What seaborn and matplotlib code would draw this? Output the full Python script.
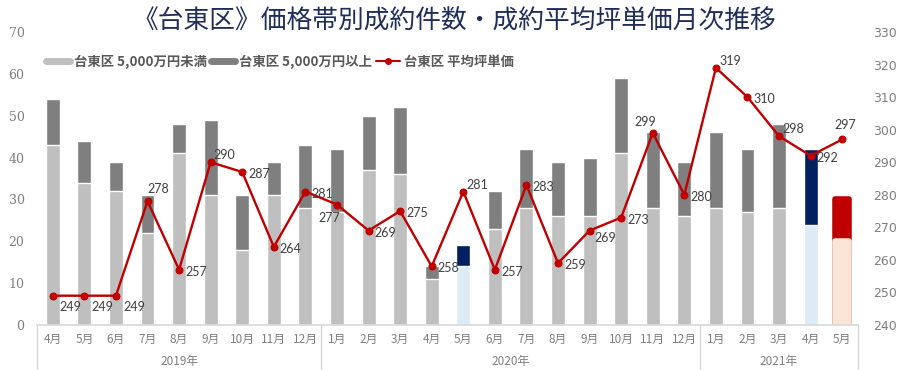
import numpy as np
import pandas as pd
import matplotlib
matplotlib.use('Agg')
import matplotlib.pyplot as plt
import matplotlib.transforms as mtransforms
from matplotlib.lines import Line2D
import seaborn as sns

# --- data ---
periods = ['2019-04', '2019-05', '2019-06', '2019-07', '2019-08', '2019-09', '2019-10', '2019-11', '2019-12',
           '2020-01', '2020-02', '2020-03', '2020-04', '2020-05', '2020-06', '2020-07', '2020-08', '2020-09',
           '2020-10', '2020-11', '2020-12',
           '2021-01', '2021-02', '2021-03', '2021-04', '2021-05']
month_labels = ['4月', '5月', '6月', '7月', '8月', '9月', '10月', '11月', '12月',
                '1月', '2月', '3月', '4月', '5月', '6月', '7月', '8月', '9月', '10月', '11月', '12月',
                '1月', '2月', '3月', '4月', '5月']
year_labels = ['2019年', '2020年', '2021年']
year_counts = [9, 12, 5]

under_50m = [43, 34, 32, 22, 41, 31, 18, 31, 28, 27, 37, 36, 11, 14, 23, 28, 26, 26, 41, 28, 26, 28, 27, 28, 24, 20]
over_50m = [11, 10, 7, 9, 7, 18, 13, 8, 15, 15, 13, 16, 3, 5, 9, 14, 13, 14, 18, 18, 13, 18, 15, 20, 18, 10]
avg_price = [249, 249, 249, 278, 257, 290, 287, 264, 281, 277, 269, 275, 258, 281, 257, 283, 259, 269, 273,
             299, 280, 319, 310, 298, 292, 297]

legend_labels = ['台東区 5,000万円未満', '台東区 5,000万円以上', '台東区 平均坪単価']
title = '《台東区》価格帯別成約件数・成約平均坪単価月次推移'

# --- styling ---
LIGHT, DARK, RED, NAVY = '#BFBFBF', '#7F7F7F', '#C00000', '#002060'
PALE_BLUE, PEACH = '#DDEBF7', '#FBE5D6'
highlight_top = {'2020-05': NAVY, '2021-04': NAVY, '2021-05': RED}
highlight_bottom = {'2020-05': PALE_BLUE, '2021-04': PALE_BLUE, '2021-05': PEACH}

# label placement (offset of label centre from the marker, in pixels)
offsets = {'r': (17, -2), 'ra': (14, 7), 'rb': (16, -7), 'a': (3, 14), 'a2': (11, 12),
           'al': (-7, 11), 'b': (-8, -13), 'br': (18, -11)}
placement = ['br', 'br', 'br', 'a2', 'r', 'ra', 'r', 'r', 'r', 'b', 'r', 'r', 'r', 'ra', 'r', 'r', 'r', 'rb',
             'r', 'al', 'r', 'ra', 'r', 'ra', 'r', 'a']

sns.set_theme(style='white')
plt.rcParams['font.family'] = ['Noto Sans CJK JP', 'DejaVu Sans']

df = pd.DataFrame({'period': periods, 'under': under_50m,
                   'total': np.array(under_50m) + np.array(over_50m), 'price': avg_price})
df['pos'] = np.arange(len(df))

top_pal = {p: highlight_top.get(p, DARK) for p in periods}
bottom_pal = {p: highlight_bottom.get(p, LIGHT) for p in periods}

fig = plt.figure(figsize=(9, 3.7), dpi=100)
ax = fig.add_axes([37 / 900, 1 - 325 / 370, 821 / 900, 293 / 370])

sns.barplot(data=df, x='period', y='total', hue='period', palette=top_pal, width=0.44,
            saturation=1, legend=False, ax=ax)
sns.barplot(data=df, x='period', y='under', hue='period', palette=bottom_pal, width=0.44,
            saturation=1, legend=False, ax=ax)

# the last (current month) bar is drawn a little rounder and wider
n = len(df)
for patch in (ax.patches[n - 1], ax.patches[2 * n - 1]):
    patch.set_edgecolor(patch.get_facecolor())
    patch.set_linewidth(4)
    patch.set_joinstyle('round')

ax.set_xlim(-0.5, n - 0.5)
ax.set_ylim(0, 70)
ax.set_yticks(range(0, 71, 10))
ax.set_xticks(range(n))
ax.set_xticklabels(month_labels)
ax.set_xlabel('')
ax.set_ylabel('')
ax.tick_params(axis='x', length=0, pad=6, labelsize=8.5, labelcolor='#7F7F7F')
ax.tick_params(axis='y', length=0, pad=9, labelcolor='#7F7F7F')
for lab in ax.get_yticklabels():
    lab.set_fontfamily('DejaVu Serif')
    lab.set_fontsize(9)
for s in ['left', 'right', 'top']:
    ax.spines[s].set_visible(False)
ax.spines['bottom'].set_color('#D9D9D9')

# line on secondary axis
ax2 = ax.twinx()
sns.lineplot(data=df, x='pos', y='price', ax=ax2, color=RED, lw=1.7, marker='o', markersize=5,
             markeredgecolor=RED)
ax2.set_ylim(240, 330)
ax2.set_yticks(range(240, 331, 10))
ax2.set_xlim(-0.5, n - 0.5)
ax2.set_ylabel('')
ax2.tick_params(axis='y', length=0, pad=11, labelcolor='#7F7F7F')
for lab in ax2.get_yticklabels():
    lab.set_fontfamily('DejaVu Sans')
    lab.set_fontsize(9)
for s in ax2.spines.values():
    s.set_visible(False)

for x, v, key in zip(df['pos'], df['price'], placement):
    ax2.annotate(str(v), (x, v), xytext=offsets[key], textcoords='offset pixels',
                 ha='center', va='center', fontsize=9, color='#404040', family='Lato')

# year group labels and separators under the month axis
trans = mtransforms.blended_transform_factory(ax.transData, ax.transAxes)
edges = np.concatenate([[0], np.cumsum(year_counts)]) - 0.5
for e in edges:
    ax.plot([e, e], [0, -0.16], transform=trans, color='#D9D9D9', lw=1, clip_on=False)
for y_lab, lo, hi in zip(year_labels, edges[:-1], edges[1:]):
    ax.text((lo + hi) / 2, -0.126, y_lab, transform=trans, ha='center', va='center',
            fontsize=8.5, color='#7F7F7F')

# legend
handles = [Line2D([0], [0], color=LIGHT, lw=5),
           Line2D([0], [0], color=DARK, lw=5),
           Line2D([0], [0], color=RED, lw=1.5, marker='o', markersize=4)]
leg = ax.legend(handles, legend_labels, loc='center left', bbox_to_anchor=(0.008, 0.898), ncol=3,
                frameon=False, fontsize=9.6, handlelength=1.8, handletextpad=0.3, columnspacing=0.3,
                borderaxespad=0, borderpad=0.2)
for t in leg.get_texts():
    t.set_color('#595959')
    t.set_fontweight('bold')

fig.text(0.505, 1 - 22 / 370, title, ha='center', va='center', fontsize=18.5, color='#1F2D5A')

fig.savefig('out.png', dpi=100)
